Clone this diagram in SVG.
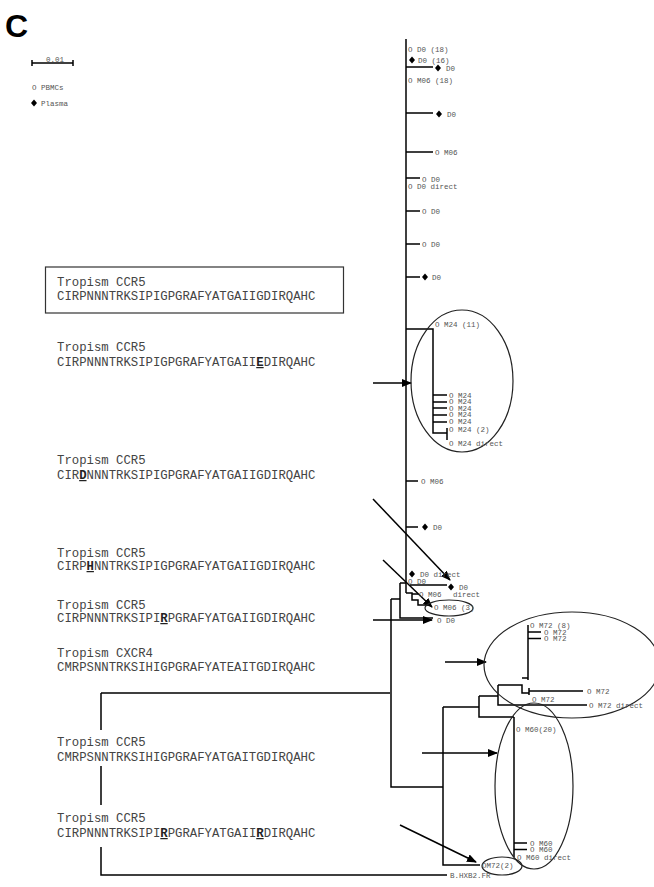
<svg xmlns="http://www.w3.org/2000/svg" width="654" height="887" viewBox="0 0 654 887">
<style>
.seq{font-family:"Liberation Mono","DejaVu Sans Mono",monospace;font-size:12.3px;fill:#444}
.b{font-weight:bold;text-decoration:underline;fill:#222}
.lb{font-family:"Liberation Mono","DejaVu Sans Mono",monospace;font-size:7.5px;fill:#555}
.ln{stroke:#000;stroke-width:1.5;fill:none}
.ell{stroke:#222;stroke-width:1.2;fill:none}
.ar{stroke:#000;stroke-width:1.5;fill:none;marker-end:url(#ah)}
</style>
<defs>
<marker id="ah" markerWidth="10" markerHeight="8" refX="9" refY="4" orient="auto" markerUnits="userSpaceOnUse">
<path d="M0,0 L10,4 L0,8 Z" fill="#000"/>
</marker>
<path id="dm" d="M0,-3.5 L3,0 L0,3.5 L-3,0 Z" fill="#000"/>
</defs>
<rect width="654" height="887" fill="#fff"/>
<text x="5" y="37" font-family="Liberation Sans,Arial,sans-serif" font-weight="bold" font-size="32">C</text>
<g id="legend">
<path class="ln" d="M32,63 H73 M32,60 V66 M73,60 V66" stroke-width="1.2"/>
<text class="lb" x="46" y="62" font-size="6">0.01</text>
<text class="lb" x="32" y="90" font-size="6.5">O PBMCs</text>
<use href="#dm" x="34" y="103"/>
<text class="lb" x="41" y="105.5" font-size="6.5">Plasma</text>
</g>
<g id="sequences">
<g id="s1"><rect x="45.5" y="267" width="298" height="46" fill="none" stroke="#333" stroke-width="1.2"/>
<text class="seq" x="57" y="286">Tropism CCR5</text>
<text class="seq" x="57" y="300">CIRPNNNTRKSIPIGPGRAFYATGAIIGDIRQAHC</text></g>
<g id="s2"><text class="seq" x="57" y="351">Tropism CCR5</text>
<text class="seq" x="57" y="366">CIRPNNNTRKSIPIGPGRAFYATGAII<tspan class="b">E</tspan>DIRQAHC</text></g>
<g id="s3"><text class="seq" x="57" y="464">Tropism CCR5</text>
<text class="seq" x="57" y="479">CIR<tspan class="b">D</tspan>NNNTRKSIPIGPGRAFYATGAIIGDIRQAHC</text></g>
<g id="s4"><text class="seq" x="57" y="557">Tropism CCR5</text>
<text class="seq" x="57" y="570">CIRP<tspan class="b">H</tspan>NNTRKSIPIGPGRAFYATGAIIGDIRQAHC</text></g>
<g id="s5"><text class="seq" x="57" y="609">Tropism CCR5</text>
<text class="seq" x="57" y="622">CIRPNNNTRKSIPI<tspan class="b">R</tspan>PGRAFYATGAIIGDIRQAHC</text></g>
<g id="s6"><text class="seq" x="57" y="657">Tropism CXCR4</text>
<text class="seq" x="57" y="671">CMRPSNNTRKSIHIGPGRAFYATEAITGDIRQAHC</text></g>
<g id="s7"><text class="seq" x="57" y="746">Tropism CCR5</text>
<text class="seq" x="57" y="761">CMRPSNNTRKSIHIGPGRAFYATGAITGDIRQAHC</text></g>
<g id="s8"><text class="seq" x="57" y="822">Tropism CCR5</text>
<text class="seq" x="57" y="837">CIRPNNNTRKSIPI<tspan class="b">R</tspan>PGRAFYATGAII<tspan class="b">R</tspan>DIRQAHC</text></g>
</g>
<g id="connectors">
<path class="ln" stroke-width="2" d="M406,39 V593"/>
<path class="ln" d="M406,67 H433 M406,113 H433 M406,152 H433 M406,178 H420 M406,211 H420 M406,244 H420 M406,277 H420"/>
<path class="ln" d="M406,329 H433 V433 H447 M447,428 V440 M433,395 H447 M433,402 H447 M433,408 H447 M433,415 H447 M433,422 H447"/>
<path class="ln" d="M406,481 H418 M406,527 H418"/>
<path class="ln" d="M400,583 H406 M410,585 H447 M406,593 H412 V600 H418 V605 H428 M412,594 H418"/>
<path class="ln" d="M391,599 H400 M400,583 V618 H433"/>
<path class="ln" d="M391,599 V787 H443 M101,693 H390 M101,693 V730 M101,766 V805 M101,847 V875 H447"/>
<path class="ln" d="M443,707 V865 H480 M443,707 H479 M479,696 V717 H514 M479,696 H498 M498,685 V705 H587 M498,685 H522 V693 H529 M522,678 H528 M529,688 V695 M529,691 H583 M528,625 V680 M528,632 H541 M528,638.5 H541"/>
<path class="ln" d="M514,717 V857 M514,843 H527 M514,849.5 H527"/>
<path class="ar" d="M373,383 H411"/>
<path class="ar" d="M373,499 L450,580"/>
<path class="ar" d="M383,560 L432,607"/>
<path class="ar" d="M373,620 H432"/>
<path class="ar" d="M445,662 H486"/>
<path class="ar" d="M422,753 H497"/>
<path class="ar" d="M400,825 L476,862"/>
</g>
<g id="clusters">
<ellipse id="c-m24" class="ell" cx="462" cy="381" rx="51" ry="71"/>
<ellipse id="c-m06" class="ell" cx="449" cy="608" rx="24" ry="8"/>
<ellipse id="c-m72" class="ell" cx="572" cy="665" rx="88" ry="53"/>
<ellipse id="c-m60" class="ell" cx="534" cy="786" rx="39" ry="83"/>
<ellipse id="c-m722" class="ell" cx="502" cy="866" rx="20" ry="9"/>
</g>
<g id="leaves">
<text class="lb" x="408" y="51.5">O D0 (18)</text>
<use href="#dm" x="412" y="60"/><text class="lb" x="418" y="63">D0 (16)</text>
<use href="#dm" x="438" y="68"/><text class="lb" x="446" y="70.5">D0</text>
<text class="lb" x="408" y="83">O M06 (18)</text>
<use href="#dm" x="439" y="114"/><text class="lb" x="447" y="116.5">D0</text>
<text class="lb" x="435" y="155">O M06</text>
<text class="lb" x="422" y="182">O D0</text>
<text class="lb" x="408" y="189">O D0 direct</text>
<text class="lb" x="422" y="213.5">O D0</text>
<text class="lb" x="422" y="246.5">O D0</text>
<use href="#dm" x="425" y="277"/><text class="lb" x="432" y="280">D0</text>
<text class="lb" x="435" y="327">O M24 (11)</text>
<text class="lb" x="449" y="397.5">O M24</text>
<text class="lb" x="449" y="404">O M24</text>
<text class="lb" x="449" y="410.5">O M24</text>
<text class="lb" x="449" y="417">O M24</text>
<text class="lb" x="449" y="423.5">O M24</text>
<text class="lb" x="449" y="432">O M24 (2)</text>
<text class="lb" x="449" y="445.5">O M24 direct</text>
<text class="lb" x="421" y="484">O M06</text>
<use href="#dm" x="425" y="527"/><text class="lb" x="433" y="530">D0</text>
<use href="#dm" x="412" y="574"/><text class="lb" x="420" y="577">D0 direct</text>
<text class="lb" x="408" y="584">O D0</text>
<use href="#dm" x="451" y="587"/><text class="lb" x="459" y="590">D0</text>
<text class="lb" x="419" y="597">O M06</text>
<text class="lb" x="453" y="597">direct</text>
<text class="lb" x="434" y="610">O M06 (3)</text>
<text class="lb" x="437" y="623">O D0</text>
<text class="lb" x="530" y="627.5">O M72 (8)</text>
<text class="lb" x="544" y="634.5">O M72</text>
<text class="lb" x="544" y="641">O M72</text>
<text class="lb" x="587" y="694">O M72</text>
<text class="lb" x="532" y="702">O M72</text>
<text class="lb" x="589" y="708">O M72 direct</text>
<text class="lb" x="516" y="732">O M60(20)</text>
<text class="lb" x="530" y="845.5">O M60</text>
<text class="lb" x="530" y="852">O M60</text>
<text class="lb" x="517" y="859.5">O M60 direct</text>
<text class="lb" x="482" y="868">OM72(2)</text>
<text class="lb" x="450" y="878">B.HXB2.FR</text>
</g>
</svg>
